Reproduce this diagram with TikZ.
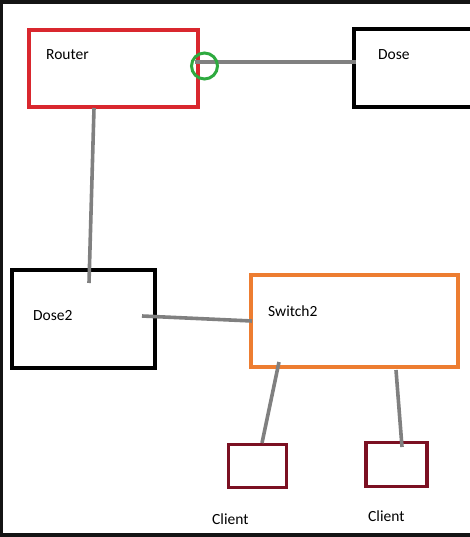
\documentclass[tikz,border=0pt]{standalone}
\usepackage{fontspec}
\setmainfont{Carlito}
\definecolor{frame}{HTML}{141414}
\definecolor{routerred}{HTML}{D9272E}
\definecolor{ringgreen}{HTML}{2EAA3F}
\definecolor{wiregray}{HTML}{808080}
\definecolor{switchorange}{HTML}{ED7D31}
\definecolor{clientred}{HTML}{7B1022}
\begin{document}
\begin{tikzpicture}[x=1pt,y=-1pt,
  box/.style={draw, line width=4pt, fill=white, inner sep=0pt, minimum width=#1},
  wire/.style={draw=wiregray, line width=3.6pt},
  lbl/.style={anchor=base west, inner sep=0pt, font=\fontsize{15.5}{18}\selectfont}]
\useasboundingbox (0,0) rectangle (470,537);
\clip (0,0) rectangle (470,537);
\fill[frame] (0,0) rectangle (470,537);
\fill[white] (3,4) rectangle (470,533);
% boxes
\node[box=169pt, draw=routerred, minimum height=77pt] (router) at (113.5,68.5) {};
\node[box=150pt, draw=black, minimum height=78pt] (dose) at (429,68) {};
\node[box=143pt, draw=black, minimum height=98pt] (dose2) at (83.5,319) {};
\node[box=207pt, draw=switchorange, minimum height=92pt] (switch) at (354.5,320.5) {};
\node[box=58pt, draw=clientred, line width=3.5pt, minimum height=43pt] (client1) at (257.5,466) {};
\node[box=61pt, draw=clientred, line width=3.5pt, minimum height=44pt] (client2) at (396.5,464.5) {};
% labels
\node[lbl] (tRouter) at (46,60) {Router};
\node[lbl] (tDose) at (378,60) {Dose};
\node[lbl] (tDose2) at (33,320) {Dose2};
\node[lbl] (tSwitch) at (268,316) {Switch2};
\node[lbl] (tClient1) at (212,524) {Client};
\node[lbl] (tClient2) at (368,521) {Client};
% connector ends
\coordinate (rA) at (195,62);
\coordinate (dA) at (356,62);
\coordinate (rB) at (94,108);
\coordinate (d2A) at (89,283);
\coordinate (d2B) at (142,316);
\coordinate (sA) at (252,321);
\coordinate (sB) at (279,362);
\coordinate (c1A) at (262,443);
\coordinate (sC) at (396,370);
\coordinate (c2A) at (402,447);
\draw[wire] (rA) -- (dA);
\draw[wire] (rB) -- (d2A);
\draw[wire] (d2B) -- (sA);
\draw[wire] (sB) -- (c1A);
\draw[wire] (sC) -- (c2A);
% green ring
\node[draw=ringgreen, line width=3pt, circle, minimum size=26pt, inner sep=0pt] (ring) at (204.5,66) {};
\end{tikzpicture}
\end{document}
